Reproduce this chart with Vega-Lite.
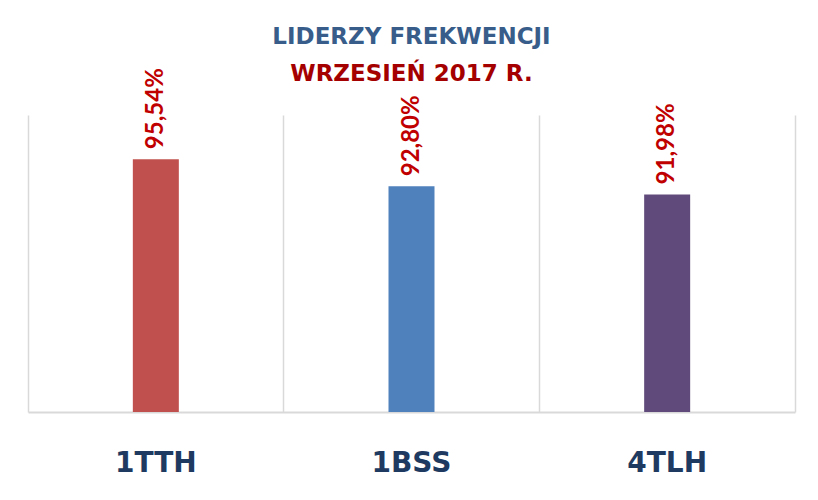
{
  "$schema": "https://vega.github.io/schema/vega-lite/v6.json",
  "autosize": "none",
  "width": 767,
  "height": 297,
  "padding": {"left": 28, "top": 115, "right": 23, "bottom": 88},
  "background": "white",
  "title": {
    "text": "LIDERZY FREKWENCJI",
    "subtitle": "WRZESIEŃ 2017 R.",
    "anchor": "middle",
    "font": "DejaVu Sans",
    "fontSize": 23,
    "fontWeight": "bold",
    "color": "#385D8A",
    "subtitleFont": "DejaVu Sans",
    "subtitleFontSize": 23,
    "subtitleFontWeight": "bold",
    "subtitleColor": "#A50000",
    "subtitlePadding": 14,
    "offset": -18
  },
  "data": {
    "values": [
      {"klasa": "1TTH", "frekwencja": 95.54, "etykieta": "95,54%"},
      {"klasa": "1BSS", "frekwencja": 92.80, "etykieta": "92,80%"},
      {"klasa": "4TLH", "frekwencja": 91.98, "etykieta": "91,98%"}
    ]
  },
  "encoding": {
    "x": {
      "field": "klasa",
      "type": "nominal",
      "sort": null,
      "scale": {"paddingInner": 0, "paddingOuter": 0},
      "axis": {
        "title": null,
        "labelAngle": 0,
        "labelFont": "DejaVu Sans",
        "labelFontSize": 28,
        "labelFontWeight": "bold",
        "labelColor": "#1F3A60",
        "labelPadding": 37,
        "ticks": false,
        "domain": true,
        "domainColor": "#D9D9D9",
        "domainWidth": 2,
        "grid": true,
        "gridColor": "#D9D9D9",
        "gridWidth": 1.5,
        "bandPosition": 0
      }
    },
    "y": {
      "field": "frekwencja",
      "type": "quantitative",
      "scale": {"domain": [70, 100], "zero": false, "nice": false},
      "axis": {
        "orient": "right",
        "title": null,
        "labels": false,
        "ticks": false,
        "grid": false,
        "domain": true,
        "domainColor": "#D9D9D9",
        "domainWidth": 1.5
      }
    }
  },
  "layer": [
    {
      "mark": {"type": "bar", "size": 46, "clip": true},
      "encoding": {
        "color": {
          "field": "klasa",
          "type": "nominal",
          "sort": null,
          "scale": {"domain": ["1TTH", "1BSS", "4TLH"], "range": ["#C0504D", "#4F81BD", "#604A7B"]},
          "legend": null
        }
      }
    },
    {
      "mark": {
        "type": "text",
        "angle": 270,
        "align": "left",
        "baseline": "middle",
        "dx": 10,
        "font": "Lato",
        "fontSize": 24,
        "fontWeight": "bold",
        "color": "#C00000"
      },
      "encoding": {"text": {"field": "etykieta"}}
    }
  ],
  "config": {"view": {"stroke": null}}
}
